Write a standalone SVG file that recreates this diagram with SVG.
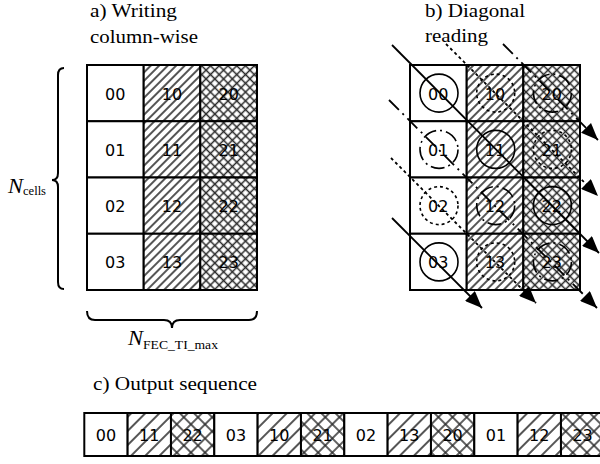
<svg xmlns="http://www.w3.org/2000/svg" width="600" height="464" viewBox="0 0 600 464">
<style>
.num{font-family:"DejaVu Sans","Liberation Sans",sans-serif;font-size:16px;text-anchor:middle;fill:#000}
.cell{stroke:#000;stroke-width:2}
.w{fill:#fff}
.d{fill:url(#hd)}
.x{fill:url(#hx)}
.d2{fill:url(#hd2)}
.x2{fill:url(#hx2)}
.c{fill:none;stroke:#000;stroke-width:1.6}
.cd{stroke-dasharray:3 3}
.cdd{stroke-dasharray:14 4 2 4}
.ln{fill:none;stroke:#000;stroke-width:1.8}
.lnd{stroke-dasharray:3 3}
.lndd{stroke-dasharray:14 5 2 5}
.br{fill:none;stroke:#000;stroke-width:2}
</style>
<defs>
<pattern id="hd" width="6" height="6" patternUnits="userSpaceOnUse" patternTransform="rotate(45)"><rect width="6" height="6" fill="#fff"/><line x1="3" y1="0" x2="3" y2="6" stroke="#2a2a2a" stroke-width="1.6"/></pattern>
<pattern id="hx" width="6.2" height="6.2" patternUnits="userSpaceOnUse" patternTransform="rotate(45)"><rect width="6.2" height="6.2" fill="#fff"/><line x1="3.1" y1="0" x2="3.1" y2="6.2" stroke="#2a2a2a" stroke-width="1.5"/><line x1="0" y1="3.1" x2="6.2" y2="3.1" stroke="#2a2a2a" stroke-width="1.5"/></pattern>
<pattern id="hd2" width="10" height="10" patternUnits="userSpaceOnUse" patternTransform="rotate(45)"><rect width="10" height="10" fill="#fff"/><line x1="5" y1="0" x2="5" y2="10" stroke="#2a2a2a" stroke-width="1.6"/></pattern>
<pattern id="hx2" width="10" height="10" patternUnits="userSpaceOnUse" patternTransform="rotate(45)"><rect width="10" height="10" fill="#fff"/><line x1="5" y1="0" x2="5" y2="10" stroke="#2a2a2a" stroke-width="1.5"/><line x1="0" y1="5" x2="10" y2="5" stroke="#2a2a2a" stroke-width="1.5"/></pattern>
<marker id="ah" markerUnits="userSpaceOnUse" markerWidth="18" markerHeight="14" refX="17" refY="7" orient="auto"><path d="M0,0 L17,7 L0,14 z" fill="#000"/></marker>
</defs>

<!-- labels -->
<g id="labels" font-family="'Liberation Serif', 'Times New Roman', serif" fill="#000">
<text x="90" y="17" font-size="18" textLength="87" lengthAdjust="spacingAndGlyphs">a) Writing</text>
<text x="90" y="43" font-size="18" textLength="108" lengthAdjust="spacingAndGlyphs">column-wise</text>
<text x="425" y="17" font-size="18" textLength="100" lengthAdjust="spacingAndGlyphs">b) Diagonal</text>
<text x="425" y="42" font-size="18" textLength="63" lengthAdjust="spacingAndGlyphs">reading</text>
<text x="93" y="390" font-size="18" textLength="164" lengthAdjust="spacingAndGlyphs">c) Output sequence</text>
<text x="8" y="193" font-size="21" font-style="italic" textLength="15" lengthAdjust="spacingAndGlyphs">N</text>
<text x="23" y="195" font-size="13" textLength="23" lengthAdjust="spacingAndGlyphs">cells</text>
<text x="128" y="345" font-size="21" font-style="italic" textLength="15" lengthAdjust="spacingAndGlyphs">N</text>
<text x="143" y="349" font-size="13" textLength="75" lengthAdjust="spacingAndGlyphs">FEC_TI_max</text>
</g>

<!-- braces -->
<g id="braces">
<path class="br" d="M64,68 Q58,68 58,75 L58,173 Q58,180 52,180 Q58,180 58,187 L58,282 Q58,289 64,289"/>
<path class="br" d="M87,311 Q87,320 95,320 L164,320 Q172,320 172,328 Q172,320 180,320 L249,320 Q257,320 257,311"/>
</g>

<!-- a) grid -->
<g id="gridA">
<g id="a00"><rect class="cell w" x="87" y="65" width="56.7" height="56.25"/><text class="num" x="115.3" y="99.6">00</text></g>
<g id="a01"><rect class="cell w" x="87" y="121.25" width="56.7" height="56.25"/><text class="num" x="115.3" y="155.9">01</text></g>
<g id="a02"><rect class="cell w" x="87" y="177.5" width="56.7" height="56.25"/><text class="num" x="115.3" y="212.1">02</text></g>
<g id="a03"><rect class="cell w" x="87" y="233.75" width="56.7" height="56.25"/><text class="num" x="115.3" y="268.4">03</text></g>
<g id="a10"><rect class="cell d" x="143.7" y="65" width="56.6" height="56.25"/><text class="num" x="172" y="99.6">10</text></g>
<g id="a11"><rect class="cell d" x="143.7" y="121.25" width="56.6" height="56.25"/><text class="num" x="172" y="155.9">11</text></g>
<g id="a12"><rect class="cell d" x="143.7" y="177.5" width="56.6" height="56.25"/><text class="num" x="172" y="212.1">12</text></g>
<g id="a13"><rect class="cell d" x="143.7" y="233.75" width="56.6" height="56.25"/><text class="num" x="172" y="268.4">13</text></g>
<g id="a20"><rect class="cell x" x="200.3" y="65" width="56.7" height="56.25"/><text class="num" x="228.7" y="99.6">20</text></g>
<g id="a21"><rect class="cell x" x="200.3" y="121.25" width="56.7" height="56.25"/><text class="num" x="228.7" y="155.9">21</text></g>
<g id="a22"><rect class="cell x" x="200.3" y="177.5" width="56.7" height="56.25"/><text class="num" x="228.7" y="212.1">22</text></g>
<g id="a23"><rect class="cell x" x="200.3" y="233.75" width="56.7" height="56.25"/><text class="num" x="228.7" y="268.4">23</text></g>
</g>

<!-- b) grid -->
<g id="gridB">
<g id="b00"><rect class="cell w" x="410" y="65" width="56.7" height="56.25"/><circle class="c" cx="439" cy="93.1" r="19"/><text class="num" x="438.3" y="99.6">00</text></g>
<g id="b01"><rect class="cell w" x="410" y="121.25" width="56.7" height="56.25"/><circle class="c cdd" cx="439" cy="149.4" r="19"/><text class="num" x="438.3" y="155.9">01</text></g>
<g id="b02"><rect class="cell w" x="410" y="177.5" width="56.7" height="56.25"/><circle class="c cd" cx="439" cy="205.6" r="19"/><text class="num" x="438.3" y="212.1">02</text></g>
<g id="b03"><rect class="cell w" x="410" y="233.75" width="56.7" height="56.25"/><circle class="c" cx="439" cy="261.9" r="19"/><text class="num" x="438.3" y="268.4">03</text></g>
<g id="b10"><rect class="cell d" x="466.7" y="65" width="56.6" height="56.25"/><circle class="c cd" cx="495.7" cy="93.1" r="19"/><text class="num" x="495" y="99.6">10</text></g>
<g id="b11"><rect class="cell d" x="466.7" y="121.25" width="56.6" height="56.25"/><circle class="c" cx="495.7" cy="149.4" r="19"/><text class="num" x="495" y="155.9">11</text></g>
<g id="b12"><rect class="cell d" x="466.7" y="177.5" width="56.6" height="56.25"/><circle class="c cdd" cx="495.7" cy="205.6" r="19"/><text class="num" x="495" y="212.1">12</text></g>
<g id="b13"><rect class="cell d" x="466.7" y="233.75" width="56.6" height="56.25"/><circle class="c cd" cx="495.7" cy="261.9" r="19"/><text class="num" x="495" y="268.4">13</text></g>
<g id="b20"><rect class="cell x" x="523.3" y="65" width="56.7" height="56.25"/><circle class="c cdd" cx="552.4" cy="93.1" r="19"/><text class="num" x="551.7" y="99.6">20</text></g>
<g id="b21"><rect class="cell x" x="523.3" y="121.25" width="56.7" height="56.25"/><circle class="c cd" cx="552.4" cy="149.4" r="19"/><text class="num" x="551.7" y="155.9">21</text></g>
<g id="b22"><rect class="cell x" x="523.3" y="177.5" width="56.7" height="56.25"/><circle class="c" cx="552.4" cy="205.6" r="19"/><text class="num" x="551.7" y="212.1">22</text></g>
<g id="b23"><rect class="cell x" x="523.3" y="233.75" width="56.7" height="56.25"/><circle class="c cdd" cx="552.4" cy="261.9" r="19"/><text class="num" x="551.7" y="268.4">23</text></g>
</g>

<!-- connectors: diagonal reading -->
<g id="connectors">
<line class="ln" x1="392" y1="45" x2="599" y2="253" marker-end="url(#ah)"/>
<line class="ln" x1="392" y1="218" x2="482" y2="308" marker-end="url(#ah)"/>
<line class="ln lnd" x1="446" y1="44" x2="598" y2="196" marker-end="url(#ah)"/>
<line class="ln lnd" x1="391" y1="158" x2="536" y2="303" marker-end="url(#ah)"/>
<line class="ln lndd" x1="503" y1="44" x2="598" y2="140" marker-end="url(#ah)"/>
<line class="ln lndd" x1="389" y1="100" x2="597" y2="308" marker-end="url(#ah)"/>
</g>

<!-- c) output sequence -->
<g id="seq">
<g id="s00"><rect class="cell w" x="84.3" y="413" width="43.33" height="43"/><text class="num" x="106" y="441">00</text></g>
<g id="s11"><rect class="cell d2" x="127.63" y="413" width="43.33" height="43"/><text class="num" x="149.3" y="441">11</text></g>
<g id="s22"><rect class="cell x2" x="170.97" y="413" width="43.33" height="43"/><text class="num" x="192.6" y="441">22</text></g>
<g id="s03"><rect class="cell w" x="214.3" y="413" width="43.33" height="43"/><text class="num" x="236" y="441">03</text></g>
<g id="s10"><rect class="cell d2" x="257.63" y="413" width="43.33" height="43"/><text class="num" x="279.3" y="441">10</text></g>
<g id="s21"><rect class="cell x2" x="300.97" y="413" width="43.33" height="43"/><text class="num" x="322.6" y="441">21</text></g>
<g id="s02"><rect class="cell w" x="344.3" y="413" width="43.33" height="43"/><text class="num" x="366" y="441">02</text></g>
<g id="s13"><rect class="cell d2" x="387.63" y="413" width="43.33" height="43"/><text class="num" x="409.3" y="441">13</text></g>
<g id="s20"><rect class="cell x2" x="430.97" y="413" width="43.33" height="43"/><text class="num" x="452.6" y="441">20</text></g>
<g id="s01"><rect class="cell w" x="474.3" y="413" width="43.33" height="43"/><text class="num" x="496" y="441">01</text></g>
<g id="s12"><rect class="cell d2" x="517.63" y="413" width="43.33" height="43"/><text class="num" x="539.3" y="441">12</text></g>
<g id="s23"><rect class="cell x2" x="560.97" y="413" width="43.33" height="43"/><text class="num" x="582.6" y="441">23</text></g>
</g>
</svg>
